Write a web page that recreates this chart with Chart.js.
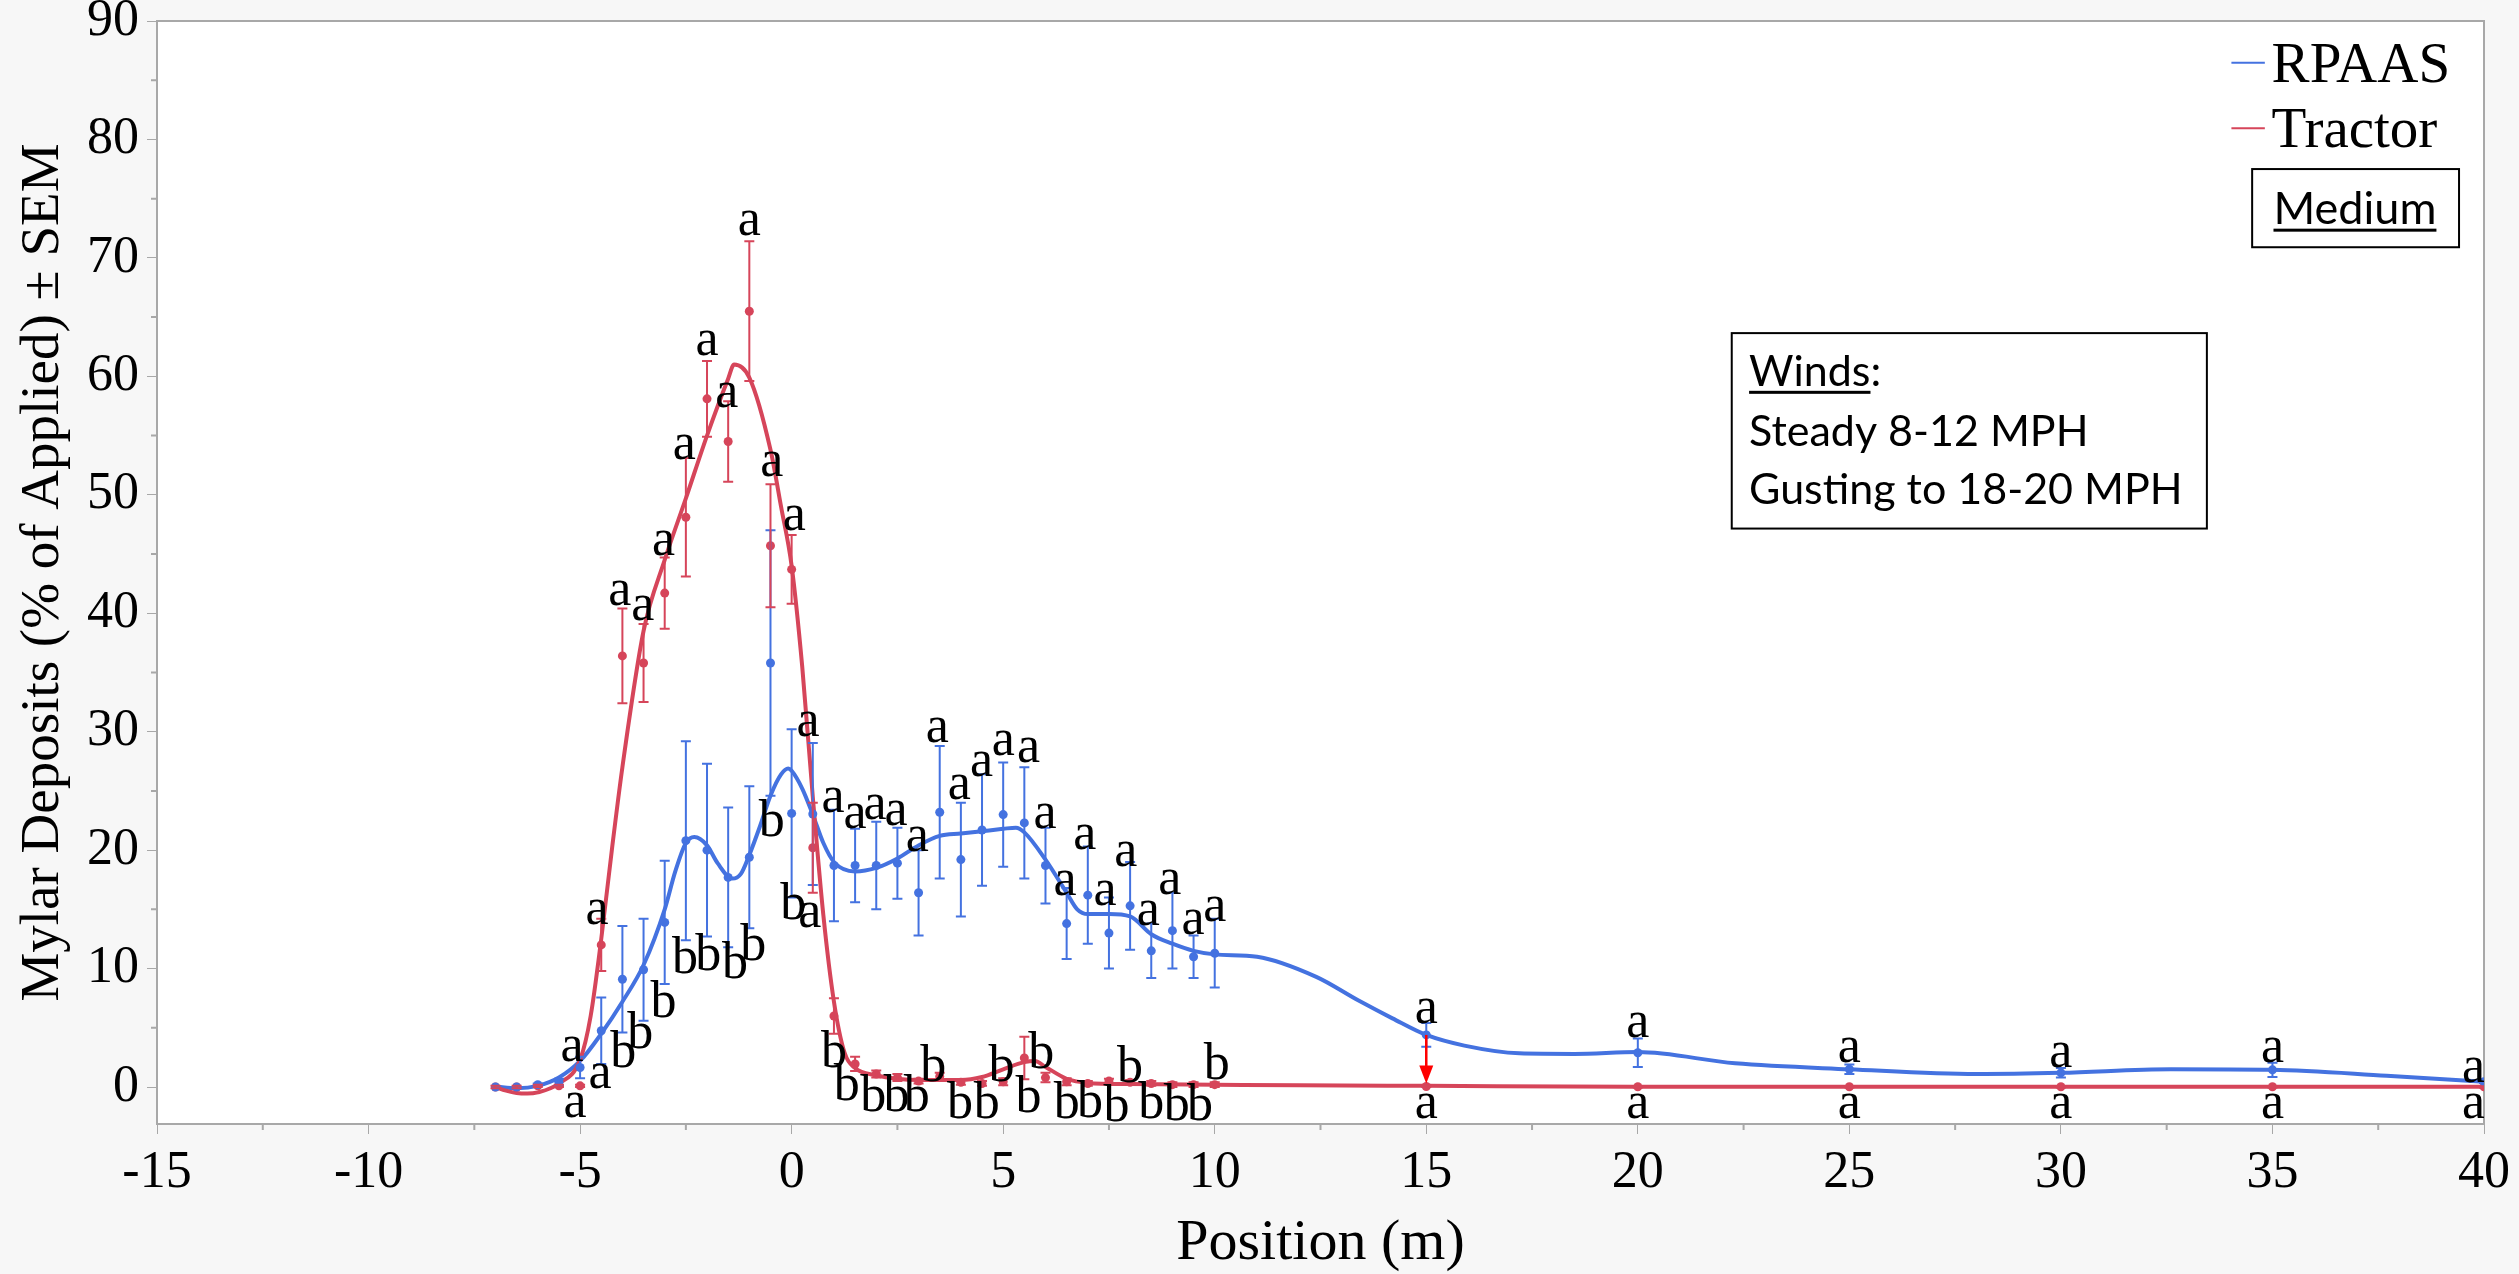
<!DOCTYPE html>
<html>
<head>
<meta charset="utf-8">
<title>Mylar deposits by position</title>
<script src="https://cdn.jsdelivr.net/npm/chart.js@4.4.1/dist/chart.umd.min.js"></script>
<style>
  html, body { margin: 0; padding: 0; background: #f7f7f7; }
  #wrap { width: 2519px; height: 1274px; }
</style>
</head>
<body>
<div id="wrap"><canvas id="chart" width="2519" height="1274"></canvas></div>
<script>
// sampling positions (m)
const positions = [-7, -6.5, -6, -5.5, -5, -4.5, -4, -3.5, -3, -2.5, -2, -1.5, -1, -0.5, 0,
  0.5, 1, 1.5, 2, 2.5, 3, 3.5, 4, 4.5, 5, 5.5, 6, 6.5, 7, 7.5, 8, 8.5, 9, 9.5, 10,
  15, 20, 25, 30, 35, 40];

const rpaasMean = [0, 0, 0.2, 0.4, 1.65, 4.75, 9.1, 9.9, 13.9, 20.8, 20.0, 17.7, 19.4, 35.8, 23.1,
  23.05, 18.7, 18.7, 18.7, 18.9, 16.4, 23.2, 19.2, 21.7, 23.0, 22.3, 18.7, 13.8, 16.2, 13.0, 15.3, 11.5, 13.2, 11.0, 11.3,
  4.4, 2.9, 1.5, 1.2, 1.45, 0.45];
const rpaasSem = [0, 0, 0.1, 0.3, 0.9, 2.8, 4.5, 4.3, 5.2, 8.4, 7.3, 5.9, 6.0, 11.2, 7.1,
  6.0, 4.7, 3.1, 3.7, 3.0, 3.6, 5.6, 4.8, 4.7, 4.4, 4.7, 3.2, 3.0, 4.1, 3.0, 3.7, 2.3, 3.2, 1.8, 2.9,
  1.0, 1.2, 0.4, 0.4, 0.6, 0.1];

const tractorMean = [0, 0, 0.1, 0.1, 0.1, 12.0, 36.4, 35.8, 41.7, 48.1, 58.1, 54.5, 65.5, 45.7, 43.7,
  20.2, 6.0, 1.95, 1.1, 0.8, 0.5, 0.9, 0.4, 0.3, 0.45, 2.45, 0.8, 0.45, 0.3, 0.5, 0.4, 0.3, 0.2, 0.2, 0.2,
  0.05, 0.02, 0.02, 0.02, 0.02, 0.02];
const tractorSem = [0.1, 0.1, 0.1, 0.1, 0.1, 2.2, 4.0, 3.3, 3.0, 5.0, 3.2, 3.4, 5.9, 5.2, 2.9,
  3.8, 1.5, 0.6, 0.3, 0.3, 0.2, 0.3, 0.2, 0.2, 0.3, 1.8, 0.4, 0.3, 0.2, 0.2, 0.2, 0.2, 0.2, 0.2, 0.2,
  0.05, 0.05, 0.05, 0.05, 0.05, 0.05];

// smoothed fit curves
const rpaasFitX = [-7, -6.5, -6, -5.5, -5, -4.5, -4, -3.5, -3, -2.75, -2.5, -2.3, -2, -1.75, -1.4, -1.2, -1, -0.75, -0.5, -0.25,
  -0.08, 0, 0.25, 0.5, 0.75, 1, 1.5, 2, 2.5, 3, 3.5, 4, 4.5, 5, 5.3, 5.5, 6, 6.5, 6.75, 7,
  7.5, 8, 8.5, 9, 9.5, 10, 11, 12.4, 13.4, 14.2, 15, 15.9, 17.2, 18.5, 20, 22.3, 25, 28, 30, 32.6, 35, 37.7, 40];
const rpaasFitY = [0.05, -0.1, 0.1, 0.8, 2.2, 4.5, 7.2, 10.3, 15.0, 18.2, 20.6, 21.1, 20.4, 18.9, 17.6, 18.0, 19.6, 22.0, 24.6, 26.4,
  26.9, 26.7, 25.2, 23.0, 20.6, 19.0, 18.2, 18.5, 19.3, 20.4, 21.2, 21.4, 21.6, 21.8, 21.9, 21.5, 19.2, 16.4, 15.0, 14.6,
  14.6, 14.4, 12.9, 12.1, 11.5, 11.2, 11.0, 9.3, 7.3, 5.8, 4.4, 3.5, 2.85, 2.8, 2.95, 2.0, 1.5, 1.1, 1.2, 1.5, 1.45, 0.95, 0.45];

const tractorFitX = [-7, -6.75, -6.5, -6.25, -6, -5.5, -5, -4.75, -4.5, -4.25, -4, -3.5, -3, -2.5, -2, -1.5, -1.36, -1, -0.5, -0.25,
  0, 0.25, 0.5, 0.75, 1, 1.25, 1.5, 2, 2.5, 3, 3.5, 4, 4.5, 5, 5.5, 5.75, 6, 6.5, 7, 8, 10, 12, 15, 20, 30, 40];
const tractorFitY = [0, -0.3, -0.5, -0.55, -0.45, 0.3, 2.3, 6.0, 12.5, 20.0, 27.0, 38.5, 44.5, 49.7, 55.0, 59.8, 61.0, 59.9, 53.8, 49.0,
  44.0, 35.5, 24.5, 14.5, 7.2, 2.9, 1.6, 1.0, 0.7, 0.6, 0.6, 0.6, 0.85, 1.5, 2.1, 2.2, 1.7, 0.7, 0.35, 0.25, 0.2, 0.15, 0.1, 0.02, 0.02, 0.02];

const xTicks = [-15, -10, -5, 0, 5, 10, 15, 20, 25, 30, 35, 40];
const xMinorTicks = [-12.5, -7.5, -2.5, 2.5, 7.5, 12.5, 17.5, 22.5, 27.5, 32.5, 37.5];
const yTicks = [0, 10, 20, 30, 40, 50, 60, 70, 80, 90];
const yMinorTicks = [5, 15, 25, 35, 45, 55, 65, 75, 85];

// significance letters: [position, baseline value, letter]
const sigLetters = [
  [-5.19, 2.2, "a"], [-5.12, -2.5, "a"], [-4.53, -0.1, "a"], [-4.6, 13.8, "a"],
  [-3.98, 1.7, "b"], [-3.58, 3.3, "b"], [-3.03, 5.9, "b"],
  [-4.06, 40.7, "a"], [-3.52, 39.4, "a"], [-3.03, 44.9, "a"], [-2.54, 53.0, "a"], [-2.0, 61.8, "a"],
  [-1.53, 57.4, "a"], [-1.0, 71.9, "a"], [-0.47, 51.6, "a"], [0.06, 47.0, "a"],
  [-2.52, 9.6, "b"], [-1.97, 9.9, "b"], [-1.34, 9.2, "b"], [-0.91, 10.7, "b"], [-0.47, 21.2, "b"], [0.04, 14.2, "b"],
  [0.43, 13.5, "a"], [0.39, 29.6, "a"], [0.98, 23.2, "a"], [1.0, 1.7, "b"], [1.3, -1.1, "b"],
  [1.5, 21.9, "a"], [1.97, 22.6, "a"], [2.47, 22.1, "a"], [2.97, 19.9, "a"], [3.44, 29.1, "a"], [3.96, 24.3, "a"],
  [4.49, 26.3, "a"], [5.0, 28.0, "a"], [5.6, 27.4, "a"], [5.99, 21.9, "a"], [6.46, 16.2, "a"], [6.93, 20.1, "a"],
  [7.41, 15.4, "a"], [7.9, 18.7, "a"], [8.43, 13.7, "a"], [8.94, 16.3, "a"], [9.49, 12.9, "a"], [10.0, 14.0, "a"],
  [1.93, -2.0, "b"], [2.48, -2.0, "b"], [2.96, -2.0, "b"], [3.35, 0.5, "b"], [3.98, -2.6, "b"], [4.61, -2.6, "b"],
  [4.96, 0.5, "b"], [5.6, -2.1, "b"], [5.9, 1.6, "b"], [6.5, -2.6, "b"], [7.05, -2.5, "b"], [7.68, -2.9, "b"],
  [8.0, 0.4, "b"], [8.5, -2.6, "b"], [9.1, -2.8, "b"], [9.65, -2.8, "b"], [10.05, 0.7, "b"],
  [15, 5.4, "a"], [20, 4.2, "a"], [25, 2.1, "a"], [30, 1.7, "a"], [35, 2.1, "a"], [39.75, 0.4, "a"],
  [15, -2.6, "a"], [20, -2.6, "a"], [25, -2.6, "a"], [30, -2.6, "a"], [35, -2.6, "a"], [39.75, -2.6, "a"]
];

const windsLines = ["Steady 8-12 MPH", "Gusting to 18-20 MPH"];

const blue = "#4472e0";
const red = "#d6455a";
const frame = "#a8a8a8";
const serif = "'Liberation Serif', serif";
const sans = "Lato, 'Open Sans', sans-serif";

const toPoints = (xs, ys) => xs.map((x, i) => ({ x, y: ys[i] }));

const background = {
  id: "background",
  beforeDraw(chart) {
    const { ctx, chartArea: a, width, height } = chart;
    ctx.save();
    ctx.fillStyle = "#f7f7f7";
    ctx.fillRect(0, 0, width, height);
    ctx.fillStyle = "#fff";
    ctx.fillRect(a.left, a.top, a.right - a.left, a.bottom - a.top);
    ctx.restore();
  },
  beforeDatasetsDraw(chart) {
    const { ctx, chartArea: a, scales: { x, y } } = chart;
    ctx.save();
    ctx.strokeStyle = frame;
    ctx.lineWidth = 2;
    ctx.strokeRect(a.left, a.top, a.right - a.left, a.bottom - a.top);
    ctx.beginPath();
    xMinorTicks.forEach((v) => {
      const px = x.getPixelForValue(v);
      ctx.moveTo(px, a.bottom);
      ctx.lineTo(px, a.bottom + 6);
    });
    yMinorTicks.forEach((v) => {
      const py = y.getPixelForValue(v);
      ctx.moveTo(a.left, py);
      ctx.lineTo(a.left - 6, py);
    });
    ctx.stroke();
    ctx.restore();
  },
};

const errorBars = {
  id: "errorBars",
  afterDatasetsDraw(chart) {
    const { ctx, chartArea: a, scales: { x, y } } = chart;
    ctx.save();
    ctx.beginPath();
    ctx.rect(a.left, a.top, a.right - a.left, a.bottom - a.top);
    ctx.clip();
    ctx.lineWidth = 2;
    chart.data.datasets.forEach((ds) => {
      if (!ds.sem) return;
      ctx.strokeStyle = ds.backgroundColor;
      ds.data.forEach((p, j) => {
        const e = ds.sem[j];
        if (!e) return;
        const px = x.getPixelForValue(p.x);
        const top = y.getPixelForValue(p.y + e);
        const bot = y.getPixelForValue(p.y - e);
        ctx.beginPath();
        ctx.moveTo(px, top);
        ctx.lineTo(px, bot);
        ctx.moveTo(px - 5, top);
        ctx.lineTo(px + 5, top);
        ctx.moveTo(px - 5, bot);
        ctx.lineTo(px + 5, bot);
        ctx.stroke();
      });
    });
    ctx.restore();
  },
};

const annotations = {
  id: "annotations",
  afterDraw(chart) {
    const { ctx, chartArea: a, scales: { x, y } } = chart;
    const X = (v) => x.getPixelForValue(v);
    const Y = (v) => y.getPixelForValue(v);
    ctx.save();

    // arrow at 15 m
    const i15 = positions.indexOf(15);
    const ax = X(15);
    const y1 = Y(rpaasMean[i15]);
    const y2 = Y(tractorMean[i15]) - 3;
    ctx.strokeStyle = "#ff0000";
    ctx.fillStyle = "#ff0000";
    ctx.lineWidth = 2.5;
    ctx.beginPath();
    ctx.moveTo(ax, y1);
    ctx.lineTo(ax, y2 - 16);
    ctx.stroke();
    ctx.beginPath();
    ctx.moveTo(ax - 7, y2 - 18);
    ctx.lineTo(ax + 7, y2 - 18);
    ctx.lineTo(ax, y2);
    ctx.closePath();
    ctx.fill();

    // letters
    ctx.save();
    ctx.beginPath();
    ctx.rect(a.left, a.top, a.right - a.left, a.bottom - a.top);
    ctx.clip();
    ctx.fillStyle = "#000";
    ctx.font = `52px ${serif}`;
    ctx.textAlign = "center";
    ctx.textBaseline = "alphabetic";
    sigLetters.forEach(([lx, ly, t]) => ctx.fillText(t, X(lx), Y(ly)));
    ctx.restore();

    // legend
    ctx.lineWidth = 2;
    ctx.font = `57px ${serif}`;
    ctx.textAlign = "left";
    ctx.fillStyle = "#000";
    [["RPAAS", blue, 86.47, 84.84], ["Tractor", red, 80.95, 79.34]].forEach(([name, c, ly, by]) => {
      ctx.strokeStyle = c;
      ctx.beginPath();
      ctx.moveTo(X(34.03), Y(ly));
      ctx.lineTo(X(34.82), Y(ly));
      ctx.stroke();
      ctx.fillText(name, X(34.98), Y(by));
    });

    // Medium box
    ctx.strokeStyle = "#000";
    ctx.lineWidth = 2;
    ctx.strokeRect(X(34.52), Y(77.5), X(39.41) - X(34.52), Y(70.9) - Y(77.5));
    ctx.font = `45px ${sans}`;
    ctx.textAlign = "center";
    const mx = X(36.95);
    const my = Y(72.89);
    ctx.fillText("Medium", mx, my);
    const mw = ctx.measureText("Medium").width;
    ctx.fillRect(mx - mw / 2, my + 5, mw, 3);

    // winds box
    ctx.strokeRect(X(22.22), Y(63.65), X(33.45) - X(22.22), Y(47.15) - Y(63.65));
    ctx.font = `43px ${sans}`;
    ctx.textAlign = "left";
    const wx = X(22.63);
    const wy = Y(59.2);
    ctx.fillText("Winds:", wx, wy);
    ctx.fillRect(wx, wy + 5, ctx.measureText("Winds").width, 3);
    ctx.fillText(windsLines[0], wx, Y(54.1));
    ctx.fillText(windsLines[1], wx, Y(49.2));

    ctx.restore();
  },
};

new Chart(document.getElementById("chart"), {
  type: "scatter",
  data: {
    datasets: [
      {
        label: "RPAAS",
        data: toPoints(positions, rpaasMean),
        sem: rpaasSem,
        backgroundColor: blue,
        borderWidth: 0,
        pointRadius: 4.5,
      },
      {
        label: "Tractor",
        data: toPoints(positions, tractorMean),
        sem: tractorSem,
        backgroundColor: red,
        borderWidth: 0,
        pointRadius: 4.5,
      },
      {
        label: "Tractor fit",
        data: toPoints(tractorFitX, tractorFitY),
        showLine: true,
        borderColor: red,
        borderWidth: 4,
        pointRadius: 0,
        cubicInterpolationMode: "monotone",
      },
      {
        label: "RPAAS fit",
        data: toPoints(rpaasFitX, rpaasFitY),
        showLine: true,
        borderColor: blue,
        borderWidth: 4,
        pointRadius: 0,
        cubicInterpolationMode: "monotone",
      },
    ],
  },
  options: {
    responsive: false,
    animation: false,
    devicePixelRatio: 1,
    layout: { padding: { left: 0, right: 35, top: 21, bottom: 0 } },
    plugins: { legend: { display: false }, tooltip: { enabled: false } },
    scales: {
      x: {
        type: "linear",
        min: -15,
        max: 40,
        afterBuildTicks: (s) => { s.ticks = xTicks.map((value) => ({ value })); },
        afterFit: (s) => { s.height = 150; s.paddingLeft = 0; s.paddingRight = 0; },
        grid: { drawOnChartArea: false, tickLength: 10, color: frame, tickColor: frame },
        border: { color: frame, width: 2 },
        ticks: {
          autoSkip: false,
          maxRotation: 0,
          padding: 8,
          color: "#000",
          font: { family: serif, size: 52, lineHeight: 1.2 },
          callback: (v) => String(v),
        },
        title: {
          display: true,
          text: "Position (m)",
          color: "#000",
          font: { family: serif, size: 58, lineHeight: 1 },
          padding: { top: 0, bottom: 1 },
        },
      },
      y: {
        type: "linear",
        min: -3.12,
        max: 90,
        afterBuildTicks: (s) => { s.ticks = yTicks.map((value) => ({ value })); },
        afterFit: (s) => { s.width = 157; s.paddingTop = 0; s.paddingBottom = 0; },
        grid: { drawOnChartArea: false, tickLength: 10, color: frame, tickColor: frame },
        border: { color: frame, width: 2 },
        ticks: {
          padding: 8,
          color: "#000",
          font: { family: serif, size: 52, lineHeight: 0.8 },
          callback: (v) => String(v),
        },
        title: {
          display: true,
          text: "Mylar Deposits (% of Applied) ± SEM",
          color: "#000",
          font: { family: serif, size: 55, lineHeight: 1 },
          padding: { top: 16, bottom: 0 },
        },
      },
    },
  },
  plugins: [background, errorBars, annotations],
});
</script>
</body>
</html>
